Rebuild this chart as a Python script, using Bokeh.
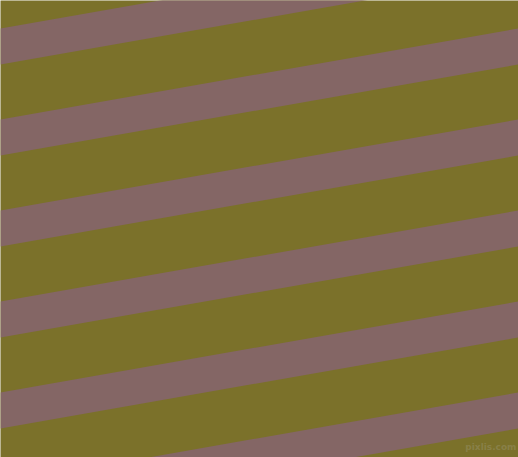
from bokeh.plotting import figure
from bokeh.models import Range1d
from bokeh.embed import file_html
from bokeh.resources import INLINE
from bokeh.core.properties import value

# Stripe pattern data (reference image pixel coordinates, y downward)
band_top_at_left = [28, 119, 210, 301, 392, 483]      # upper edge of each mauve band at x=0
band_bottom_at_left = [64, 155, 246, 337, 428, 519]   # lower edge of each mauve band at x=0
rise_across_width = 91                                # how much each edge rises from x=0 to x=518
image_width = 518
image_height = 457
watermark = "pixlis.com"

olive = "#7b712a"
mauve = "#846665"

W, H = image_width, image_height
p = figure(width=W, height=H, output_backend="svg", toolbar_location=None,
           x_range=Range1d(0, image_width), y_range=Range1d(image_height, 0),
           min_border=0, min_border_left=0, min_border_right=0,
           min_border_top=0, min_border_bottom=0)
p.axis.visible = False
p.grid.visible = False
p.outline_line_color = None
p.background_fill_color = olive
p.border_fill_color = olive

xs, ys = [], []
for t, b in zip(band_top_at_left, band_bottom_at_left):
    xs.append([0, image_width, image_width, 0])
    ys.append([t, t - rise_across_width, b - rise_across_width, b])
p.patches(xs, ys, fill_color=mauve, line_color=None)

p.text(x=[image_width - 2], y=[image_height - 6], text=[watermark],
       text_align="right", text_baseline="bottom",
       text_font=value("DejaVu Sans"), text_font_style="bold",
       text_font_size="9px", text_color="#8c8450", text_alpha=0.8)

open("out.html", "w").write(file_html(p, INLINE))
